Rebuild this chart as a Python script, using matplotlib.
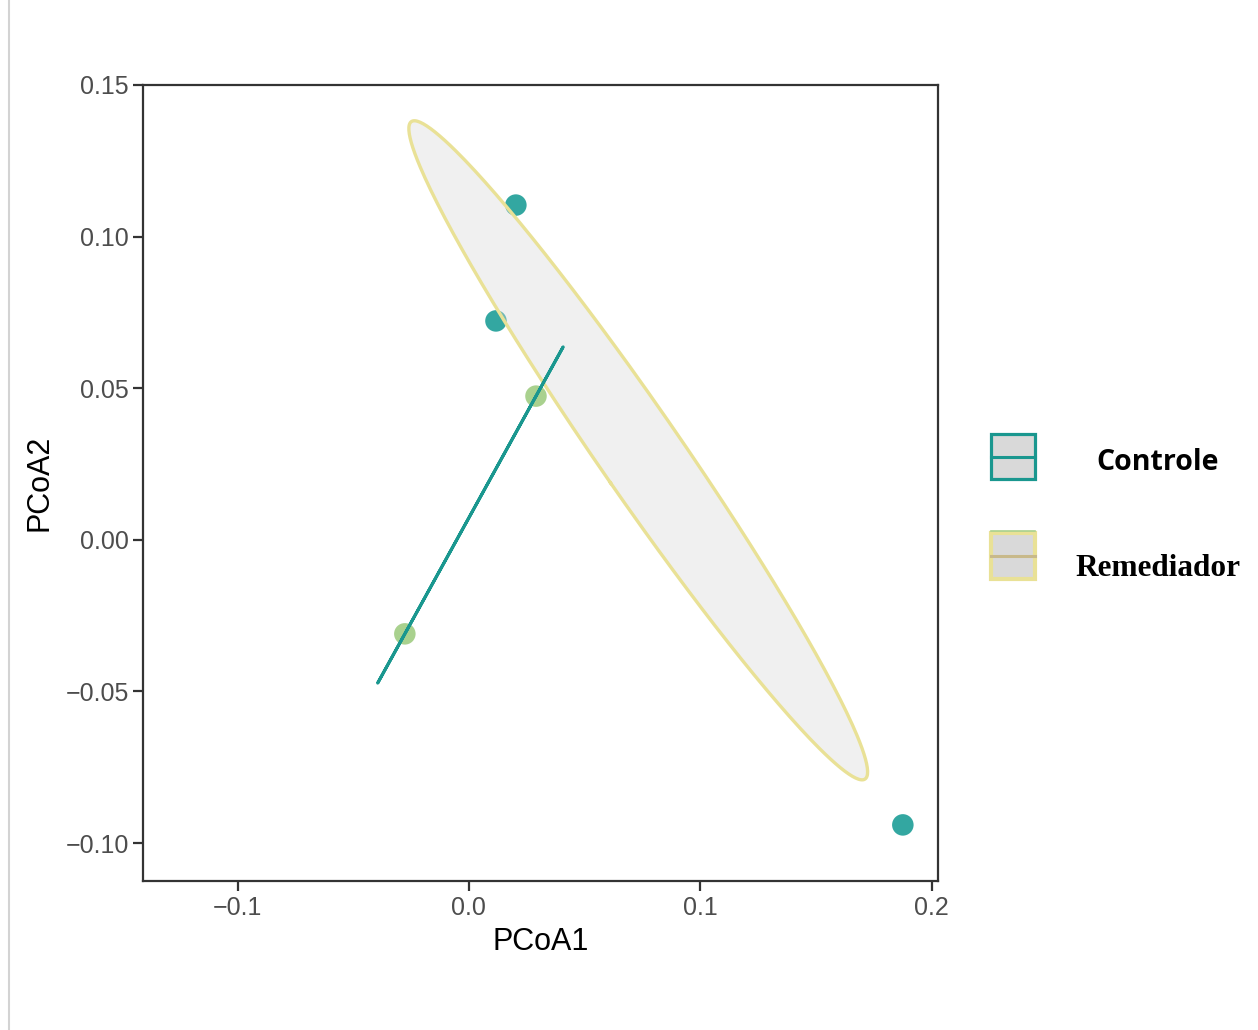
import numpy as np
import matplotlib
matplotlib.use("Agg")
import matplotlib.pyplot as plt
from matplotlib.patches import Rectangle
from matplotlib.lines import Line2D

# ---- data ----
groups = ["Controle", "Remediador"]
controle_x = [0.0203, 0.0117, 0.1876]
controle_y = [0.1104, 0.0722, -0.0940]
remediador_x = [0.0290, -0.0277]
remediador_y = [0.0474, -0.0310]
x_ticks = [-0.1, 0.0, 0.1, 0.2]
x_tick_labels = ["\u22120.1", "0.0", "0.1", "0.2"]
y_ticks = [-0.10, -0.05, 0.00, 0.05, 0.10, 0.15]
y_tick_labels = ["\u22120.10", "\u22120.05", "0.00", "0.05", "0.10", "0.15"]

# ---- styles ----
teal_pt = "#33A7A1"
green_pt = "#A9D18E"
teal_line = "#1A978F"
yellow_line = "#E9E196"
grey_fill = "#D9D9D9"
tick_col = "#4D4D4D"
frame_col = "#333333"

W, H = 1258, 1030
fig = plt.figure(figsize=(W / 100, H / 100), dpi=100)
ax = fig.add_axes([143 / W, 1 - 881 / H, (938 - 143) / W, (881 - 85) / H])

ax.set_xlim(-0.1409, 0.2028)
ax.set_ylim(-0.1125, 0.15)

def cov_ellipse(xs, ys, n=300):
    pts = np.vstack([xs, ys])
    mu = pts.mean(axis=1)
    C = np.cov(pts)
    vals, vecs = np.linalg.eigh(C)
    vals = np.clip(vals, 0, None)
    t = np.linspace(0, 2 * np.pi, n)
    circ = np.vstack([np.cos(t), np.sin(t)])
    e = vecs @ np.diag(np.sqrt(vals)) @ circ
    return mu[0] + e[0], mu[1] + e[1]

# points
ax.scatter(controle_x, controle_y, s=240, color=teal_pt, edgecolors="none", zorder=2)
ax.scatter(remediador_x, remediador_y, s=240, color=green_pt, edgecolors="none", zorder=2)

# ellipses (drawn over the points)
ex, ey = cov_ellipse(controle_x, controle_y)
ax.fill(ex, ey, facecolor=grey_fill, alpha=0.38, edgecolor="none", zorder=3)
ax.plot(ex, ey, color=yellow_line, lw=2.4, zorder=4)
rx, ry = cov_ellipse(remediador_x, remediador_y)
ax.plot(rx, ry, color=teal_line, lw=2.2, zorder=4, solid_capstyle="butt")

# axes styling
for sp in ax.spines.values():
    sp.set_color(frame_col)
    sp.set_linewidth(1.6)
ax.set_xticks(x_ticks)
ax.set_xticklabels(x_tick_labels)
ax.set_yticks(y_ticks)
ax.set_yticklabels(y_tick_labels)
ax.tick_params(axis="both", which="major", length=7, width=1.6, color=frame_col,
               labelcolor=tick_col, labelsize=18)
ax.tick_params(axis="x", pad=4)
ax.tick_params(axis="y", pad=3)
for lab in ax.get_xticklabels() + ax.get_yticklabels():
    lab.set_family(["Liberation Sans", "DejaVu Sans"])

ax.set_xlabel("PCoA1", fontsize=22, family="Liberation Sans", color="black", labelpad=5)
ax.set_ylabel("PCoA2", fontsize=22, family="Liberation Sans", color="black", labelpad=8)

# ---- legend (manual) ----
def key(x0, y0, w, h, edge, mid, lw_edge, top=None):
    fig.patches.append(Rectangle((x0 / W, 1 - (y0 + h) / H), w / W, h / H,
                                 transform=fig.transFigure, facecolor=grey_fill,
                                 edgecolor=edge, linewidth=lw_edge))
    fig.lines.append(Line2D([x0 / W, (x0 + w) / W], [1 - (y0 + h / 2) / H] * 2,
                            transform=fig.transFigure, color=mid, linewidth=2.2))
    if top is not None:
        fig.lines.append(Line2D([x0 / W, (x0 + w) / W], [1 - (y0 - 1.5) / H] * 2,
                                transform=fig.transFigure, color=top, linewidth=1.2))

key(990.5, 434.5, 44, 44, teal_line, teal_line, 2.3)
key(990.5, 532.5, 44, 46, yellow_line, "#C8B98A", 3.0, top=green_pt)

fig.text(1158 / W, 1 - 463 / H, groups[0], ha="center", va="center",
         fontsize=20.5, fontweight="bold", family=["Open Sans", "DejaVu Sans"])
fig.text(1158 / W, 1 - 568 / H, groups[1], ha="center", va="center",
         fontsize=22.5, fontweight="bold", family=["Liberation Serif", "DejaVu Serif"])

# left grey page edge
fig.lines.append(Line2D([8.5 / W, 8.5 / W], [0, 1], transform=fig.transFigure,
                        color="#D3D3D3", linewidth=1.5))

fig.savefig("out.png", dpi=100, facecolor="white")
